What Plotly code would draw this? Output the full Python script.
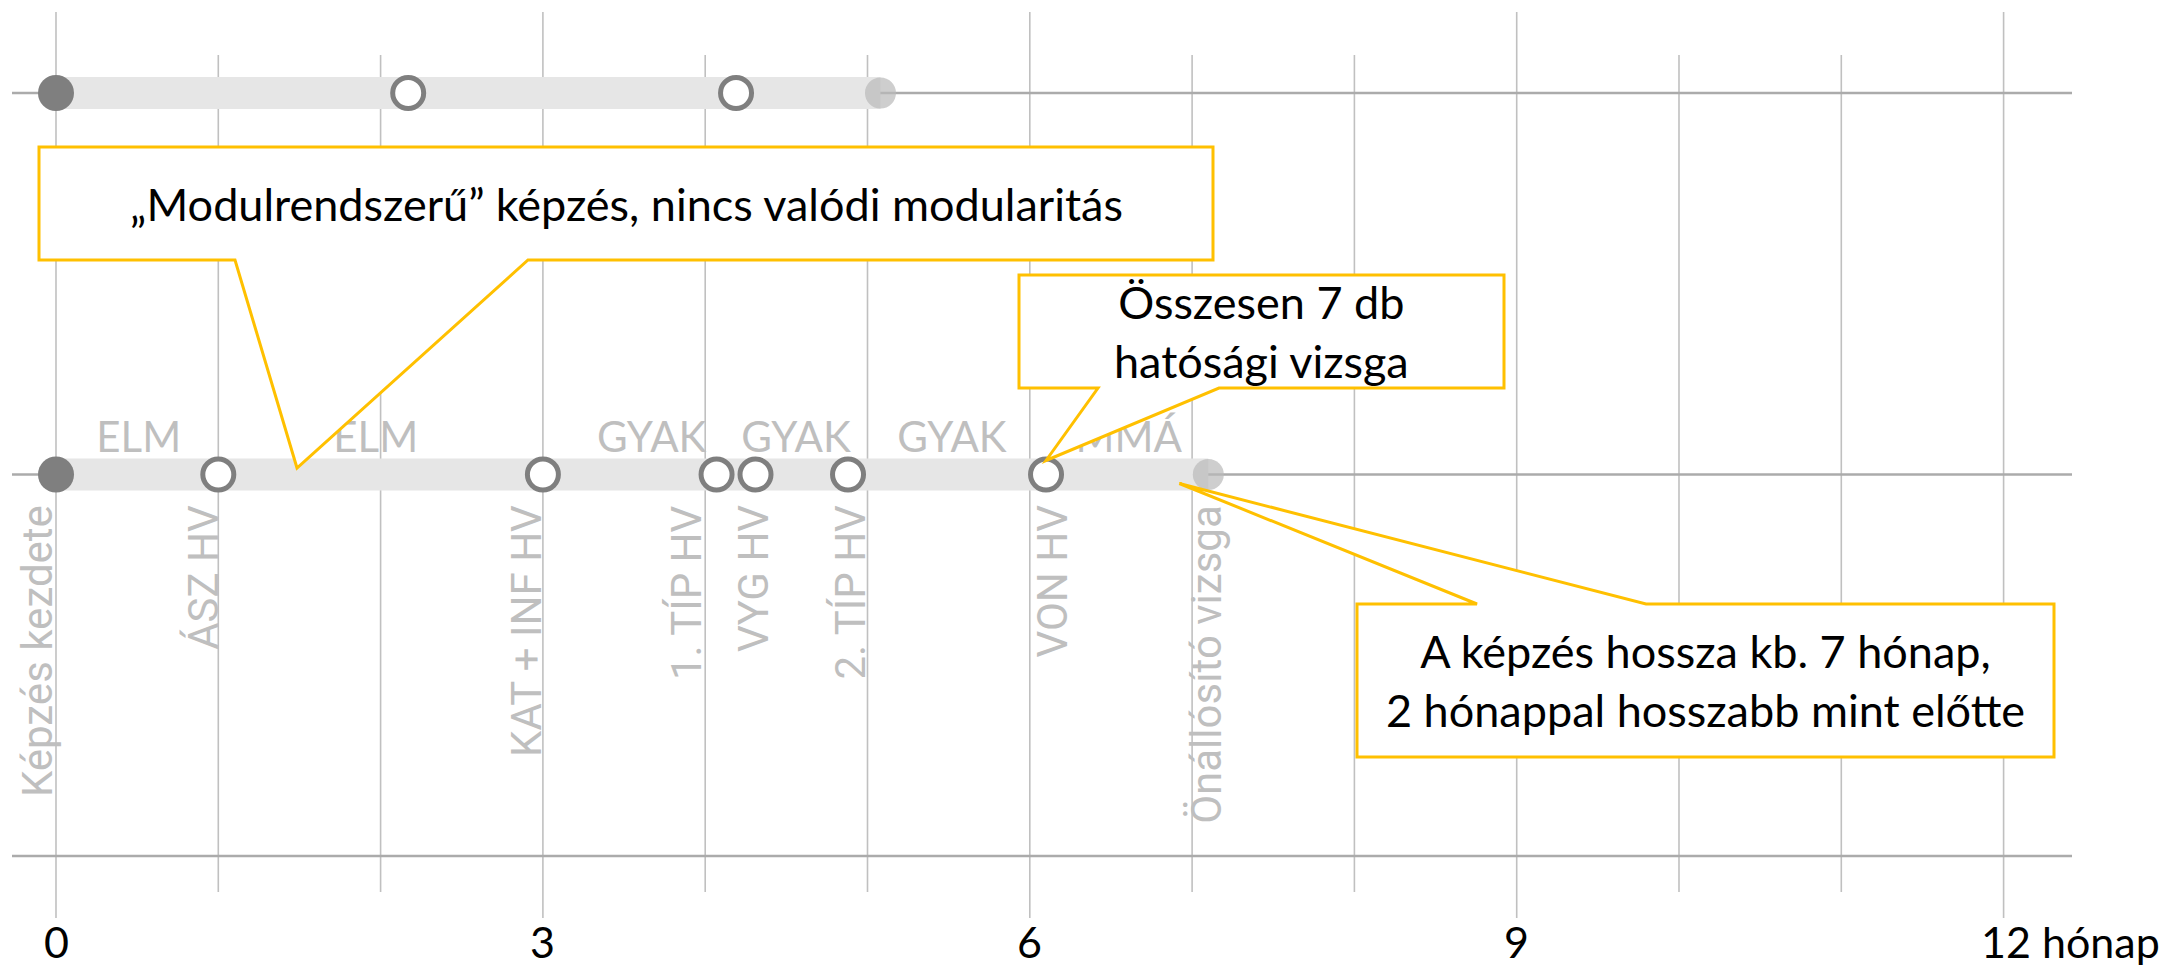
import plotly.graph_objects as go

# ---------------- data ----------------
grid_months = list(range(13))
major_months = [0, 3, 6, 9, 12]
major_labels = ["0", "3", "6", "9", "12"]
axis_unit = "hónap"

# earlier training (upper timeline)
old_row = 2
old_start = 0
old_exam_months = [2.17, 4.19]
old_end = 5.08

# current training (lower timeline)
new_row = 1
new_start = 0
new_exam_months = [1.0, 3.0, 4.07, 4.31, 4.88, 6.10]
new_exam_labels = ["ÁSZ HV", "KAT + INF HV", "1. TÍP HV", "VYG HV", "2. TÍP HV", "VON HV"]
new_end = 7.10
start_label = "Képzés kezdete"
end_label = "Önállósító vizsga"

segment_labels = ["ELM", "ELM", "GYAK", "GYAK", "GYAK", "MMÁ"]
segment_mid_months = [0.51, 1.97, 3.67, 4.56, 5.52, 6.61]

callout_texts = [
    "„Modulrendszerű” képzés, nincs valódi modularitás",
    "Összesen 7 db<br>hatósági vizsga",
    "A képzés hossza kb. 7 hónap,<br>2 hónappal hosszabb mint előtte",
]

# ---------------- layout geometry (pixels) ----------------
W, H = 2184, 966
X0_PX, PX_PER_MONTH = 56.0, 162.3
XMIN = -X0_PX / PX_PER_MONTH
XMAX = XMIN + W / PX_PER_MONTH
ROW0_PX, PX_PER_ROW = 856.0, 381.5
YMAX = ROW0_PX / PX_PER_ROW
YMIN = YMAX - H / PX_PER_ROW


def xd(px):
    return XMIN + px / PX_PER_MONTH


def yd(py):
    return YMAX - py / PX_PER_ROW


def dxd(dpx):
    return dpx / PX_PER_MONTH


def dyd(dpy):
    return -dpy / PX_PER_ROW


GRID_V = "#c0c0c0"
GRID_H = "#ababab"
BAR = "#e6e6e6"
DARK = "#7f7f7f"
LABEL = "#bfbfbf"
GOLD = "#FFC000"
TXT_FONT = "Lato, Carlito, 'Liberation Sans', sans-serif"
VLABEL_FONT = "Roboto, 'Open Sans', 'DejaVu Sans', sans-serif"

fig = go.Figure()

# vertical grid lines (major taller, minor shorter)
mx, my, nx, ny = [], [], [], []
for m in grid_months:
    if m in major_months:
        mx += [m, m, None]
        my += [yd(12), yd(918), None]
    else:
        nx += [m, m, None]
        ny += [yd(55), yd(892), None]
fig.add_trace(go.Scatter(x=mx, y=my, mode="lines", line=dict(color=GRID_V, width=1.6),
                         hoverinfo="skip", showlegend=False))
fig.add_trace(go.Scatter(x=nx, y=ny, mode="lines", line=dict(color=GRID_V, width=1.6),
                         hoverinfo="skip", showlegend=False))

# horizontal row lines
hx, hy = [], []
for r in [0, new_row, old_row]:
    hx += [xd(12), xd(2072), None]
    hy += [r, r, None]
fig.add_trace(go.Scatter(x=hx, y=hy, mode="lines", line=dict(color=GRID_H, width=2.4),
                         hoverinfo="skip", showlegend=False))

# timeline bars
for row, start, end in [(old_row, old_start, old_end), (new_row, new_start, new_end)]:
    fig.add_trace(go.Scatter(x=[start, end], y=[row, row], mode="lines",
                             line=dict(color=BAR, width=32), hoverinfo="skip", showlegend=False))

# end caps
fig.add_trace(go.Scatter(x=[old_end, new_end], y=[old_row, new_row], mode="markers",
                         marker=dict(size=31, color="rgba(185,185,185,0.7)", line=dict(width=0)),
                         hoverinfo="skip", showlegend=False))

# start dots
fig.add_trace(go.Scatter(x=[old_start, new_start], y=[old_row, new_row], mode="markers",
                         marker=dict(size=36, color=DARK, line=dict(width=0)),
                         hoverinfo="skip", showlegend=False))

# exams (open circles)
fig.add_trace(go.Scatter(x=old_exam_months + new_exam_months,
                         y=[old_row] * len(old_exam_months) + [new_row] * len(new_exam_months),
                         mode="markers",
                         marker=dict(size=31, color="white", line=dict(color=DARK, width=5)),
                         hoverinfo="skip", showlegend=False))

# segment labels above the current timeline
fig.add_trace(go.Scatter(x=segment_mid_months, y=[yd(441)] * len(segment_mid_months),
                         mode="text", text=segment_labels, textposition="middle center",
                         textfont=dict(family=TXT_FONT, size=42, color=LABEL),
                         hoverinfo="skip", showlegend=False))

annotations = []

# rotated event labels
ev_x = [new_start] + new_exam_months + [new_end]
ev_t = [start_label] + new_exam_labels + [end_label]
ev_shift = [-19, -15, -17, -30, -2, 2, 6, -2]
for x, t, s in zip(ev_x, ev_t, ev_shift):
    annotations.append(dict(x=x, y=yd(503), xref="x", yref="y", text=t, showarrow=False,
                            textangle=-90, xanchor="center", yanchor="top", xshift=s,
                            font=dict(family=VLABEL_FONT, size=42, color=LABEL)))

# callouts
shapes = []


def callout(box, base, tip, side):
    x0, y0, x1, y1 = box
    b1, b2 = base
    tx, ty = tip
    X0, X1, Y0, Y1 = xd(x0), xd(x1), yd(y0), yd(y1)
    B1, B2 = xd(b1), xd(b2)
    if side == "bottom":
        pts = [(X0, Y0), (X1, Y0), (X1, Y1), (B2, Y1), (tx, ty), (B1, Y1), (X0, Y1)]
    else:
        pts = [(X0, Y0), (B1, Y0), (tx, ty), (B2, Y0), (X1, Y0), (X1, Y1), (X0, Y1)]
    path = "M " + " L ".join(f"{a:.5f},{b:.5f}" for a, b in pts) + " Z"
    shapes.append(dict(type="path", path=path, xref="x", yref="y", fillcolor="white",
                       line=dict(color=GOLD, width=3), layer="above"))
    return (X0 + X1) / 2, (Y0 + Y1) / 2


von = new_exam_months[new_exam_labels.index("VON HV")]
boxes = [
    ((39, 147, 1213, 260), (235, 528), (xd(297), yd(468)), "bottom"),
    ((1019, 275, 1504, 388), (1098, 1219), (von, new_row + dyd(-14)), "bottom"),
    ((1357, 604, 2054, 757), (1477, 1646), (new_end + dxd(-29), new_row + dyd(9)), "top"),
]
for (box, base, tip, side), txt in zip(boxes, callout_texts):
    cx, cy = callout(box, base, tip, side)
    annotations.append(dict(x=cx, y=cy, xref="x", yref="y", text=txt, showarrow=False,
                            xanchor="center", yanchor="middle", align="center",
                            font=dict(family=TXT_FONT, size=45, color="black")))

# month tick labels
for i, (m, lab) in enumerate(zip(major_months, major_labels)):
    last = i == len(major_months) - 1
    annotations.append(dict(x=m, y=yd(941), xref="x", yref="y",
                            text=f"{lab} {axis_unit}" if last else lab,
                            showarrow=False, xanchor="left" if last else "center",
                            xshift=-25 if last else 0, yanchor="middle",
                            font=dict(family=TXT_FONT, size=43, color="black")))

fig.update_layout(
    width=W, height=H,
    margin=dict(l=0, r=0, t=0, b=0, pad=0),
    paper_bgcolor="white", plot_bgcolor="white",
    showlegend=False,
    xaxis=dict(range=[XMIN, XMAX], showgrid=False, zeroline=False, showline=False,
               showticklabels=False, ticks="", fixedrange=True),
    yaxis=dict(range=[YMIN, YMAX], showgrid=False, zeroline=False, showline=False,
               showticklabels=False, fixedrange=True),
    shapes=shapes,
    annotations=annotations,
)

fig.write_html("out.html", config={"displayModeBar": False},
               post_script="document.body.style.margin='0';document.body.style.overflow='hidden';")
